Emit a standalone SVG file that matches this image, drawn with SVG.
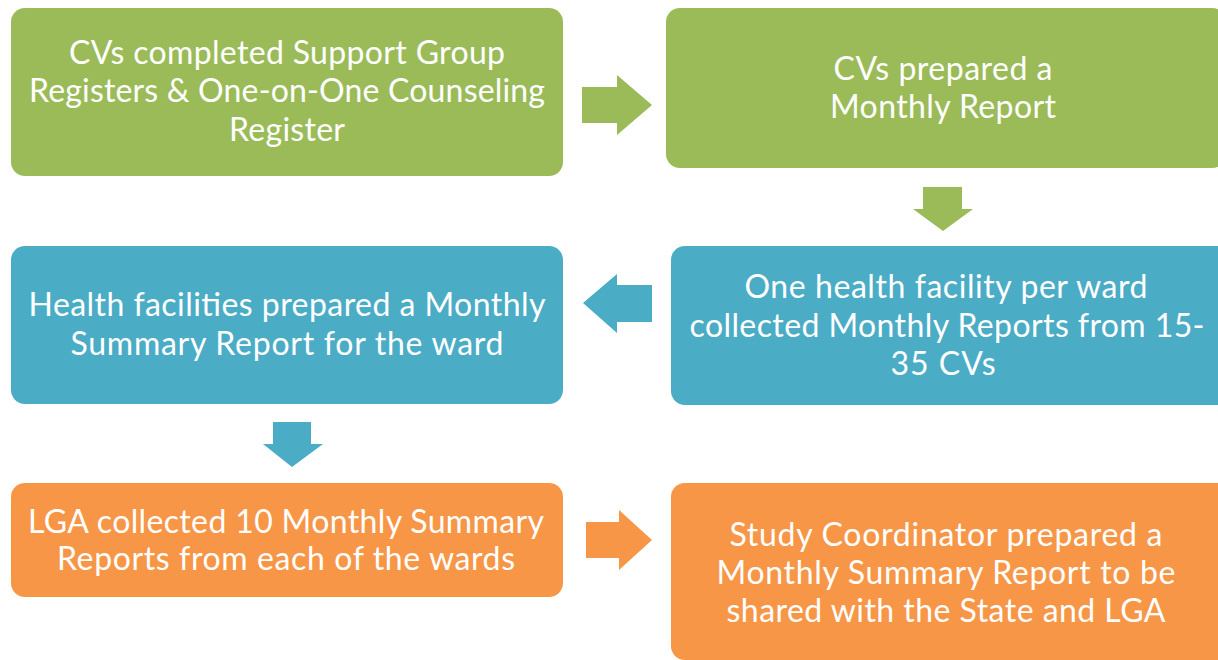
<svg xmlns="http://www.w3.org/2000/svg" width="1218" height="660" viewBox="0 0 1218 660">
<style>
.g{fill:#9BBB59}.b{fill:#4BACC6}.o{fill:#F79646}
text{font-family:Lato,"Open Sans","Liberation Sans",sans-serif;font-size:32px;fill:#fff;text-anchor:middle}
</style>
<rect width="1218" height="660" fill="#fff"/>
<g id="n1"><rect class="g" x="11" y="8" width="552" height="168" rx="14"/>
<text x="287" y="64" textLength="436">CVs completed Support Group</text>
<text x="287" y="102" textLength="516">Registers &amp; One-on-One Counseling</text>
<text x="287" y="141" textLength="116">Register</text></g>
<g id="n2"><rect class="g" x="666" y="8" width="560" height="160" rx="14"/>
<text x="943" y="80" textLength="219">CVs prepared a</text>
<text x="943" y="118" textLength="226">Monthly Report</text></g>
<g id="n3"><rect class="b" x="11" y="246" width="552" height="158" rx="14"/>
<text x="287" y="316" textLength="517">Health facilities prepared a Monthly</text>
<text x="287" y="355" textLength="433">Summary Report for the ward</text></g>
<g id="n4"><rect class="b" x="671" y="246" width="560" height="159" rx="14"/>
<text x="946" y="298" textLength="403">One health facility per ward</text>
<text x="947" y="337" textLength="515">collected Monthly Reports from 15-</text>
<text x="943" y="375" textLength="105">35 CVs</text></g>
<g id="n5"><rect class="o" x="11" y="483" width="552" height="114" rx="14"/>
<text x="286" y="533" textLength="516">LGA collected 10 Monthly Summary</text>
<text x="286" y="570" textLength="458">Reports from each of the wards</text></g>
<g id="n6"><rect class="o" x="671" y="483" width="560" height="177" rx="14"/>
<text x="946" y="546" textLength="433">Study Coordinator prepared a</text>
<text x="946" y="584" textLength="459">Monthly Summary Report to be</text>
<text x="946" y="622" textLength="439">shared with the State and LGA</text></g>
<g id="connectors">
<polygon class="g" points="582,87 617,87 617,75 652,105 617,135 617,123 582,123"/>
<polygon class="g" points="923,187 962,187 962,209 973,209 943,231 913,209 923,209"/>
<polygon class="b" points="652,285 617,285 617,274 583,303 617,333 617,322 652,322"/>
<polygon class="b" points="273,422 311,422 311,444 323,444 292,467 263,444 273,444"/>
<polygon class="o" points="586,522 619,522 619,510 652,540 619,570 619,558 586,558"/>
</g>
</svg>
